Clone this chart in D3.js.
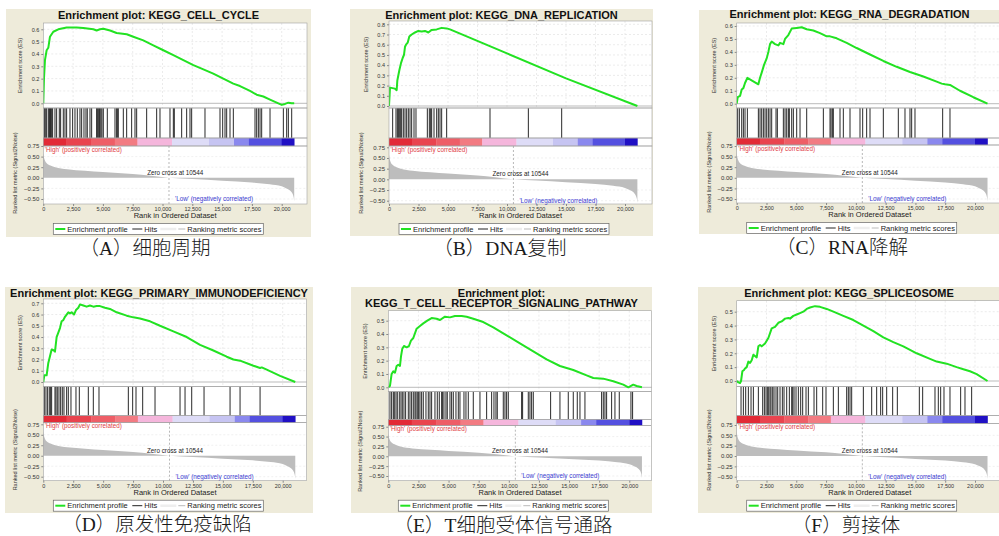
<!DOCTYPE html>
<html>
<head>
<meta charset="utf-8">
<script src="https://cdn.jsdelivr.net/npm/d3@7"></script>
<style>
body { margin: 0; background: #fff; }
svg { display: block; }
text { font-family: "Liberation Sans", Arial, sans-serif; }
</style>
</head>
<body>
<svg id="chart" width="999" height="536"></svg>
<script>
// ---- données ----
const N_GENES = 21050;
const ZERO_CROSS = 10544;
const xTicks = [0, 2500, 5000, 7500, 10000, 12500, 15000, 17500, 20000];
const rankTicks = [0.75, 0.5, 0.25, 0, -0.25, -0.5];
const esTickTop = [0.6, 0.8, 0.6, 0.7, 0.5, 0.5];

const titles = [
  ["Enrichment plot: KEGG_CELL_CYCLE"],
  ["Enrichment plot: KEGG_DNA_REPLICATION"],
  ["Enrichment plot: KEGG_RNA_DEGRADATION"],
  ["Enrichment plot: KEGG_PRIMARY_IMMUNODEFICIENCY"],
  ["Enrichment plot:", "KEGG_T_CELL_RECEPTOR_SIGNALING_PATHWAY"],
  ["Enrichment plot: KEGG_SPLICEOSOME"]
];
const captions = ["（A）细胞周期", "（B）DNA复制", "（C）RNA降解", "（D）原发性免疫缺陷", "（E）T细胞受体信号通路", "（F）剪接体"];

// ranked list metric (rank, Signal2Noise)
const metric = [[0,0.58],[40,0.5],[120,0.42],[300,0.34],[600,0.29],[1000,0.25],[2000,0.2],[3500,0.165],
  [5000,0.135],[7500,0.09],[9000,0.05],[10544,0],[12500,-0.03],[15000,-0.07],[17500,-0.11],[19000,-0.15],
  [20000,-0.2],[20400,-0.25],[20800,-0.33],[21000,-0.45],[21050,-0.55]];

// colour bar
const barStops = [0, 1950, 4000, 6000, 7900, 10800, 13900, 16000, 17250, 20000, 21050];
const barColors = ["#e22a36", "#e9444f", "#ee5e67", "#f27b82", "#f5b6dc", "#dedcf7", "#c6c4f2", "#8a88ee", "#5450e0", "#2010c4"];

// enrichment score curves (rank, ES)
const esA = [[0,0],[56,0.2],[140,0.35],[280,0.43],[420,0.45],[560,0.54],[840,0.58],[1260,0.6],[1960,0.615],[2800,0.615],
  [3360,0.61],[4200,0.6],[4475,0.59],[4755,0.6],[5035,0.605],[5600,0.59],[6150,0.57],[7000,0.56],[7550,0.54],[8390,0.51],
  [9230,0.47],[10070,0.43],[10910,0.39],[11750,0.35],[12590,0.31],[13430,0.275],[14260,0.24],[15100,0.2],[15940,0.16],[16500,0.14],
  [17340,0.1],[17900,0.07],[18460,0.055],[19020,0.03],[19580,0.005],[20000,-0.013],[20280,-0.005],[20560,0.005],[20840,0],[21050,0]];
const esB = [[0,0],[85,0.18],[508,0.17],[650,0.155],[706,0.25],[876,0.35],[1017,0.42],[1158,0.47],[1271,0.5],[1356,0.58],
  [1441,0.6],[1582,0.62],[1723,0.68],[1921,0.7],[2204,0.72],[2486,0.735],[2769,0.73],[3051,0.735],[3334,0.72],[3616,0.745],
  [4040,0.75],[4463,0.765],[4887,0.76],[5170,0.75],[10000,0.515],[15000,0.27],[21050,0]];
const esC = [[0,0],[84,0.05],[280,0.06],[420,0.11],[559,0.12],[699,0.16],[895,0.2],[1818,0.15],[1958,0.2],[2098,0.24],
  [2294,0.3],[2517,0.35],[2657,0.4],[2797,0.46],[2937,0.48],[3217,0.46],[3496,0.45],[3636,0.47],[3916,0.46],[4056,0.5],
  [4335,0.53],[4615,0.58],[5035,0.585],[5454,0.59],[5874,0.575],[6433,0.565],[6993,0.545],[7552,0.52],[7832,0.52],[8391,0.505],
  [9230,0.47],[10069,0.43],[11188,0.38],[12307,0.33],[13426,0.285],[14544,0.245],[15663,0.21],[16782,0.17],[17202,0.155],
  [17481,0.15],[17901,0.145],[18740,0.1],[19859,0.05],[21050,0]];
const esD = [[0,0],[84,0.06],[279,0.06],[418,0.17],[557,0.23],[697,0.29],[892,0.28],[975,0.27],[1114,0.4],[1254,0.44],
  [1393,0.48],[1532,0.54],[1672,0.55],[1811,0.58],[1950,0.6],[2090,0.62],[2229,0.61],[2368,0.62],[2563,0.6],[2730,0.64],
  [2925,0.66],[3065,0.69],[3343,0.68],[3622,0.67],[3900,0.68],[4179,0.67],[4458,0.675],[4736,0.675],[5154,0.66],[5572,0.65],
  [6129,0.62],[6965,0.59],[7522,0.575],[8079,0.565],[8915,0.54],[9751,0.5],[10865,0.45],[11980,0.4],[13094,0.33],[14209,0.28],
  [15323,0.225],[15880,0.2],[16437,0.19],[17552,0.145],[18109,0.125],[18248,0.13],[18666,0.11],[19781,0.055],[21050,0]];
const esE = [[0,0],[138,0.01],[277,0.1],[415,0.12],[553,0.11],[692,0.16],[830,0.17],[968,0.16],[1051,0.23],[1162,0.29],
  [1300,0.31],[1521,0.3],[1715,0.31],[1881,0.35],[2075,0.37],[2351,0.44],[2628,0.46],[2904,0.48],[3236,0.5],[3596,0.52],
  [4011,0.515],[4287,0.505],[4702,0.53],[5117,0.525],[5532,0.535],[6085,0.535],[6500,0.53],[7053,0.515],[7883,0.49],[8713,0.45],
  [9819,0.39],[10925,0.33],[12032,0.27],[13138,0.21],[14245,0.16],[15351,0.13],[16458,0.09],[17011,0.07],[17841,0.065],
  [18671,0.045],[19503,0.02],[19918,0],[20330,0.02],[20607,0.01],[21050,0]];
const esF = [[0,0],[140,-0.01],[280,-0.015],[364,0],[475,0.07],[615,0.08],[699,0.09],[839,0.1],[979,0.14],[1119,0.13],
  [1259,0.15],[1399,0.19],[1538,0.18],[1678,0.17],[1818,0.25],[1958,0.26],[2098,0.25],[2377,0.27],[2657,0.31],[2937,0.38],
  [3217,0.39],[3496,0.42],[3776,0.43],[4056,0.45],[4335,0.455],[4475,0.45],[4755,0.47],[5035,0.48],[5314,0.49],[5594,0.5],
  [5874,0.52],[6154,0.53],[6573,0.54],[6993,0.535],[7552,0.52],[8112,0.5],[8950,0.47],[9790,0.44],[10629,0.4],[11468,0.36],
  [12307,0.315],[13146,0.28],[13985,0.25],[15104,0.2],[16223,0.16],[16782,0.14],[17621,0.125],[18460,0.1],[19020,0.085],
  [19579,0.07],[20138,0.05],[21050,0]];

// hit positions (rank)
const hitsA = [84,168,280,420,504,560,615,700,783,979,1119,1343,1454,1678,1818,1958,2238,2461,2657,2853,3077,3217,3412,
  3580,3692,3916,4056,4475,4531,4615,4699,4755,4839,4923,5035,5370,6014,6153,6209,6293,6713,6993,7412,7692,7832,8671,9510,
  9790,10629,10909,10992,11608,12027,12307,12447,13565,14824,15048,15244,15384,15664,15943,17761,17901,18041,18181,18321,
  19020,20139,20418,20558,20838];
const hitsB = [311,593,706,791,876,989,1074,1215,1356,1497,1639,1780,1921,2119,2288,3249,3418,3531,3616,3814,4040,4181,
  4322,4463,4887,8560,11809,14634];
const hitsC = [84,224,420,559,699,895,1818,1958,2098,2238,2377,2517,2657,2797,2937,3300,3412,3916,4056,4196,4335,4419,4615,
  4755,5035,5314,5874,7272,7832,7916,8027,8111,8671,8950,9510,10349,10573,10908,11188,12307,13565,14125,14544,14684,14964,
  17286,17901];
const hitsD = [84,223,362,501,613,697,975,1059,1170,1309,1449,1588,1727,1950,2090,2312,2730,3009,3761,4179,4653,7104,7466,
  7745,8302,9333,11423,11841,12398,13429,15602,16437,18109];
const hitsE = [138,277,415,498,636,747,913,1051,1162,1300,1438,1660,1798,1936,2075,2213,2296,2406,2517,2628,2766,2904,3126,
  3319,3458,3596,3872,4066,4232,4426,4509,4619,4785,4896,5117,5255,5394,5615,5809,5947,6279,6445,6638,7053,7607,8160,8575,
  8768,8934,9045,9543,9681,9819,9958,11064,11147,11617,11756,11894,12032,13470,14245,14936,15351,15683,15905,16319,17702,
  17841,17979,18117,18532,18809,19168,20136,20274];
const hitsF = [364,559,755,979,1203,1399,1818,2182,2322,2461,2573,2685,2797,2881,3021,3133,3300,3440,3636,3832,3972,4196,
  4419,4615,4699,4811,4979,5174,5370,5538,5818,6014,6489,6713,7216,7496,8112,8531,9230,9370,9510,9650,10629,11328,11747,
  12083,12251,12587,13090,13482,15328,15607,16642,16922,17118,17398,17901,18796,19160,19719];

const esData = [esA, esB, esC, esD, esE, esF];
const hitsData = [hitsA, hitsB, hitsC, hitsD, hitsE, hitsF];

// ---- mise en page de chaque panneau (pixels) ----
const layouts = [
  {bg:[6,9,311,237], left:43.3, right:307, x20k:281.7, esTop:23, esBot:108, hitBot:138, barBot:146, rankBot:204,
   es0:103.3, esT:29.3, r75:146, rm50:199, titleY:[19], capX:145, capY:255},
  {bg:[350,9,653,236], left:389, right:652, x20k:625, esTop:21, esBot:108, hitBot:138, barBot:146, rankBot:204,
   es0:106, esT:24.3, r75:147.3, rm50:200.7, titleY:[19], capX:500, capY:255},
  {bg:[699,10,1000,234], left:736.7, right:1003, x20k:975, esTop:23, esBot:108, hitBot:138, barBot:145, rankBot:203,
   es0:103.7, esT:26, r75:146, rm50:199, titleY:[18], capX:842, capY:254},
  {bg:[5,287,313,513], left:43.3, right:306.7, x20k:282.7, esTop:299, esBot:386.7, hitBot:415.7, barBot:422.7, rankBot:480.7,
   es0:382, esT:303.3, r75:424.3, rm50:476.7, titleY:[296.5], capX:157, capY:531},
  {bg:[351,287,652,513], left:388.3, right:651.7, x20k:629.3, esTop:310.7, esBot:391.7, hitBot:419.3, barBot:425.7, rankBot:480.7,
   es0:387.3, esT:320.7, r75:426.7, rm50:476, titleY:[296.5, 307], capX:503, capY:531.5},
  {bg:[698,287,1000,513], left:736.7, right:1003, x20k:975, esTop:300.7, esBot:386.7, hitBot:415.7, barBot:423.3, rankBot:480.7,
   es0:381, esT:311.7, r75:425, rm50:476.7, titleY:[296.5], capX:846, capY:531.5}
];

const BEIGE = "#eeebda";
const GREEN = "#22e222";
const svg = d3.select("#chart");

function drawPanel(L, i) {
  const g = svg.append("g");
  const topVal = esTickTop[i];

  g.append("rect")
    .attr("x", L.bg[0]).attr("y", L.bg[1])
    .attr("width", L.bg[2] - L.bg[0]).attr("height", L.bg[3] - L.bg[1])
    .attr("fill", BEIGE);

  const x = d3.scaleLinear().domain([0, 20000]).range([L.left, L.x20k]);
  const yEs = d3.scaleLinear().domain([0, topVal]).range([L.es0, L.esT]);
  const yRank = d3.scaleLinear().domain([-0.5, 0.75]).range([L.rm50, L.r75]);
  const w = L.right - L.left;
  const midX = (L.left + L.right) / 2;

  // zones blanches
  g.append("rect").attr("x", L.left).attr("y", L.esTop).attr("width", w)
    .attr("height", L.rankBot - L.esTop).attr("fill", "#fff");

  // titre
  titles[i].forEach((t, k) => {
    g.append("text")
      .attr("x", (L.bg[0] + L.bg[2]) / 2).attr("y", L.titleY[k])
      .attr("text-anchor", "middle").attr("font-size", 11).attr("font-weight", "bold")
      .attr("fill", "#111").text(t);
  });

  // grille ES
  const esTicks = d3.range(0, Math.round(topVal * 10) + 1).map(d => d / 10);
  g.append("g").selectAll("line").data(esTicks.slice(1)).enter().append("line")
    .attr("x1", L.left).attr("x2", L.right)
    .attr("y1", d => yEs(d)).attr("y2", d => yEs(d))
    .attr("stroke", "#ddd").attr("stroke-width", 0.6).attr("stroke-dasharray", "2,2");
  g.append("g").selectAll("line").data(xTicks.slice(1)).enter().append("line")
    .attr("x1", d => x(d)).attr("x2", d => x(d))
    .attr("y1", L.esTop).attr("y2", L.esBot)
    .attr("stroke", "#ddd").attr("stroke-width", 0.6).attr("stroke-dasharray", "2,2");
  g.append("line").attr("x1", L.left).attr("x2", L.right)
    .attr("y1", yEs(0)).attr("y2", yEs(0)).attr("stroke", "#aaa").attr("stroke-width", 0.8);

  // axe ES
  const axEs = g.append("g").attr("transform", `translate(${L.left},0)`)
    .call(d3.axisLeft(yEs).tickValues(esTicks).tickFormat(d3.format(".1f")).tickSize(2).tickPadding(2));
  axEs.select(".domain").remove();
  axEs.selectAll("line").attr("stroke", "#888");
  axEs.selectAll("text").attr("font-size", 5.5).attr("fill", "#333").attr("font-family", "Liberation Sans, Arial, sans-serif");

  g.append("text")
    .attr("transform", `translate(${L.left - 21},${(L.esTop + L.esBot) / 2}) rotate(-90)`)
    .attr("text-anchor", "middle").attr("font-size", 5.5).attr("fill", "#333")
    .text("Enrichment score (ES)");

  // courbe ES
  const clipId = "clip" + i;
  svg.append("clipPath").attr("id", clipId).append("rect")
    .attr("x", L.left).attr("y", L.esTop - 2).attr("width", w).attr("height", L.esBot - L.esTop + 2);
  g.append("path").datum(esData[i])
    .attr("clip-path", `url(#${clipId})`)
    .attr("d", d3.line().x(d => x(d[0])).y(d => yEs(d[1])))
    .attr("fill", "none").attr("stroke", GREEN).attr("stroke-width", 2).attr("stroke-linejoin", "round");

  // hits
  g.append("g").selectAll("line").data(hitsData[i]).enter().append("line")
    .attr("x1", d => x(d)).attr("x2", d => x(d))
    .attr("y1", L.esBot).attr("y2", L.hitBot)
    .attr("stroke", "#111").attr("stroke-width", 0.9);

  // barre de couleurs
  g.append("g").selectAll("rect").data(barColors).enter().append("rect")
    .attr("x", (d, k) => x(barStops[k]))
    .attr("width", (d, k) => x(barStops[k + 1]) - x(barStops[k]) + 0.3)
    .attr("y", L.hitBot).attr("height", L.barBot - L.hitBot)
    .attr("fill", d => d);

  // grille rang
  g.append("g").selectAll("line").data(rankTicks.filter(d => d !== 0 && d !== 0.75)).enter().append("line")
    .attr("x1", L.left).attr("x2", L.right)
    .attr("y1", d => yRank(d)).attr("y2", d => yRank(d))
    .attr("stroke", "#e6e6e6").attr("stroke-width", 0.6).attr("stroke-dasharray", "2,2");

  // métrique classée
  g.append("path").datum(metric)
    .attr("d", d3.area().x(d => x(d[0])).y0(yRank(0)).y1(d => yRank(d[1])).curve(d3.curveMonotoneX))
    .attr("fill", "#bdbdbd");

  g.append("line").attr("x1", x(ZERO_CROSS)).attr("x2", x(ZERO_CROSS))
    .attr("y1", L.barBot).attr("y2", L.rankBot)
    .attr("stroke", "#999").attr("stroke-width", 0.7).attr("stroke-dasharray", "2,2");

  const axR = g.append("g").attr("transform", `translate(${L.left},0)`)
    .call(d3.axisLeft(yRank).tickValues(rankTicks).tickFormat(d3.format(".2f")).tickSize(2).tickPadding(2));
  axR.select(".domain").remove();
  axR.selectAll("line").attr("stroke", "#888");
  axR.selectAll("text").attr("font-size", 6).attr("fill", "#333").attr("font-family", "Liberation Sans, Arial, sans-serif");

  g.append("text")
    .attr("transform", `translate(${L.left - 26},${(L.barBot + L.rankBot) / 2 - 2}) rotate(-90)`)
    .attr("text-anchor", "middle").attr("font-size", 5.5).attr("fill", "#333")
    .text("Ranked list metric (Signal2Noise)");

  g.append("text").attr("x", L.left + 1.5).attr("y", L.barBot + 5.5)
    .attr("font-size", 6.3).attr("fill", "#e03c44").text("'High' (positively correlated)");
  g.append("text").attr("x", midX).attr("y", yRank(0) - 3)
    .attr("text-anchor", "middle").attr("font-size", 6.3).attr("fill", "#222").text("Zero cross at " + ZERO_CROSS);
  g.append("text").attr("x", x(ZERO_CROSS) + 6).attr("y", yRank(-0.5) + 2)
    .attr("font-size", 6.3).attr("fill", "#3a3ad0").text("'Low' (negatively correlated)");

  // cadres
  [[L.esTop, L.esBot], [L.esBot, L.hitBot], [L.hitBot, L.barBot], [L.barBot, L.rankBot]].forEach(b => {
    g.append("rect").attr("x", L.left).attr("y", b[0]).attr("width", w).attr("height", b[1] - b[0])
      .attr("fill", "none").attr("stroke", "#a0a0a0").attr("stroke-width", 0.6);
  });

  // axe x
  const axX = g.append("g").attr("transform", `translate(0,${L.rankBot})`)
    .call(d3.axisBottom(x).tickValues(xTicks).tickFormat(d3.format(",")).tickSize(2).tickPadding(1.5));
  axX.select(".domain").remove();
  axX.selectAll("line").attr("stroke", "#888");
  axX.selectAll("text").attr("font-size", 5.5).attr("fill", "#333").attr("font-family", "Liberation Sans, Arial, sans-serif");

  g.append("text").attr("x", midX).attr("y", L.rankBot + 14)
    .attr("text-anchor", "middle").attr("font-size", 7.5).attr("fill", "#222").text("Rank in Ordered Dataset");

  // légende
  const lx = L.left + 10, ly = L.rankBot + 19.5;
  const lg = g.append("g").attr("transform", `translate(${lx},${ly})`);
  lg.append("rect").attr("width", 210).attr("height", 11).attr("fill", "#fff").attr("stroke", "#666").attr("stroke-width", 0.7);
  lg.append("line").attr("x1", 2).attr("x2", 12).attr("y1", 5.5).attr("y2", 5.5).attr("stroke", GREEN).attr("stroke-width", 2);
  lg.append("text").attr("x", 14).attr("y", 8.2).attr("font-size", 7.5).attr("fill", "#222").text("Enrichment profile");
  lg.append("line").attr("x1", 79).attr("x2", 89).attr("y1", 5.5).attr("y2", 5.5).attr("stroke", "#222").attr("stroke-width", 1);
  lg.append("text").attr("x", 91).attr("y", 8.2).attr("font-size", 7.5).attr("fill", "#222").text("Hits");
  lg.append("line").attr("x1", 107).attr("x2", 123).attr("y1", 5.5).attr("y2", 5.5).attr("stroke", "#eee").attr("stroke-width", 2.5);
  lg.append("line").attr("x1", 125).attr("x2", 132).attr("y1", 5.5).attr("y2", 5.5).attr("stroke", "#bbb").attr("stroke-width", 1);
  lg.append("text").attr("x", 134).attr("y", 8.2).attr("font-size", 7.5).attr("fill", "#222").text("Ranking metric scores");

  // légende sous le graphique
  g.append("text").attr("x", L.capX).attr("y", L.capY)
    .attr("text-anchor", "middle").attr("font-size", 19.5).attr("font-weight", 300)
    .style("font-family", "'Liberation Serif', 'Noto Sans CJK SC', serif")
    .attr("fill", "#1a1a1a").text(captions[i]);
}

layouts.forEach(drawPanel);
</script>
</body>
</html>
